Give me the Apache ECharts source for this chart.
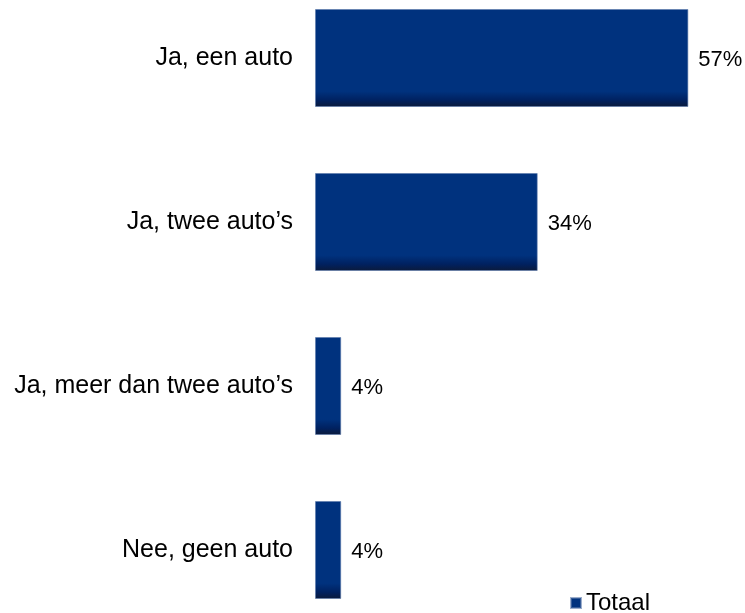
<!DOCTYPE html>
<html>
<head>
<meta charset="utf-8">
<script src="https://cdn.jsdelivr.net/npm/echarts@6/dist/echarts.min.js"></script>
<style>
  html, body { margin: 0; padding: 0; background: #ffffff; overflow: hidden; }
  /* the first category band starts above the visible area, so the canvas is shifted up */
  #chart { width: 745px; height: 663px; margin-top: -25px; }
</style>
</head>
<body>
<div id="chart"></div>
<script>
// Autobezit per huishouden (percentages)
const categories = ["Ja, een auto", "Ja, twee auto\u2019s", "Ja, meer dan twee auto\u2019s", "Nee, geen auto"];
const totaal = [57, 34, 4, 4];
const seriesName = "Totaal";

const chart = echarts.init(document.getElementById('chart'));

const barFill = new echarts.graphic.LinearGradient(0, 0, 0, 1, [
  { offset: 0, color: '#00327e' },
  { offset: 0.84, color: '#00327e' },
  { offset: 0.93, color: '#002160' },
  { offset: 1, color: '#0b1a3a' }
]);

const font = 'Liberation Sans, Arial, sans-serif';

chart.setOption({
  animation: false,
  backgroundColor: '#ffffff',
  textStyle: { fontFamily: font },
  grid: { left: 315, top: 1, width: 393, height: 656 },
  xAxis: {
    type: 'value',
    min: 0,
    max: 60,
    show: false
  },
  yAxis: {
    type: 'category',
    data: categories,
    inverse: true,
    axisLine: { show: false },
    axisTick: { show: false },
    splitLine: { show: false },
    axisLabel: {
      margin: 22,
      fontSize: 25,
      color: '#000000',
      fontFamily: font,
      padding: [5, 0, 0, 0]
    }
  },
  legend: {
    show: true,
    left: 565,
    top: 611,
    itemWidth: 10,
    itemHeight: 10,
    itemGap: 10,
    icon: 'rect',
    data: [{ name: seriesName, itemStyle: { color: '#00327e' } }],
    textStyle: { fontSize: 24, color: '#000000', fontFamily: font }
  },
  series: [{
    name: seriesName,
    type: 'bar',
    data: totaal,
    barWidth: 98,
    itemStyle: {
      color: barFill,
      borderColor: 'rgba(90,120,170,0.6)',
      borderWidth: 1
    },
    label: {
      show: true,
      position: 'right',
      distance: 10,
      offset: [0, 2],
      formatter: '{c}%',
      fontSize: 22,
      color: '#000000',
      fontFamily: font
    }
  }]
});
</script>
</body>
</html>
